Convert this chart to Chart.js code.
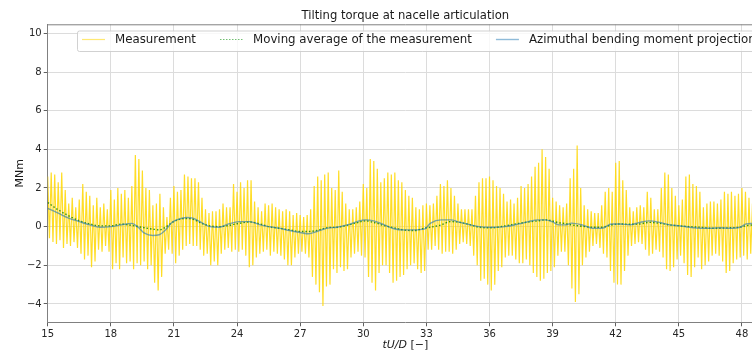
<!DOCTYPE html>
<html>
<head>
<meta charset="utf-8">
<script src="https://cdn.jsdelivr.net/npm/chart.js@4.4.1/dist/chart.umd.min.js"></script>
<style>
  html, body { margin: 0; padding: 0; background: #fff; overflow: hidden; }
  #wrap { width: 752px; height: 353px; overflow: hidden; }
  canvas { display: block; }
</style>
</head>
<body>
<div id="wrap"><canvas id="c" width="780" height="353"></canvas></div>
<script>
// ---- data -------------------------------------------------------------
const chartTitle = 'Tilting torque at nacelle articulation';
const seriesLabels = ['Measurement', 'Moving average of the measurement', 'Azimuthal bending moment projection'];
const xTicks = [15, 18, 21, 24, 27, 30, 33, 36, 39, 42, 45, 48];
const yTicks = [-4, -2, 0, 2, 4, 6, 8, 10];

// Measured torque: sampled every 1/12 of tU/D, alternating crest / trough
const measStart = 15;
const measStep = 1 / 12;
const measCrests = [
  2.6, 2.8, 2.7, 2.3, 2.8, 1.9,   // 15
  1.2, 1.5, 1.0, 1.4, 2.2, 1.8,   // 16
  1.6, 1.1, 1.5, 1.0, 1.2, 0.9,   // 17
  1.9, 1.4, 2.0, 1.7, 1.9, 1.5,   // 18
  2.1, 3.7, 3.5, 2.9, 2.0, 1.9,   // 19
  1.1, 1.2, 1.7, 1.0, 0.5, 1.5,   // 20
  2.1, 1.8, 1.9, 2.7, 2.6, 2.5,   // 21
  2.5, 2.3, 1.5, 0.9, 0.7, 0.8,   // 22
  0.8, 0.9, 1.2, 1.0, 1.0, 2.2,   // 23
  1.8, 2.3, 2.0, 2.4, 2.4, 1.3,   // 24
  1.0, 0.8, 1.2, 1.1, 1.2, 1.0,   // 25
  0.9, 0.8, 0.9, 0.8, 0.6, 0.7,   // 26
  0.6, 0.5, 0.6, 0.9, 2.1, 2.6,   // 27
  2.4, 2.7, 2.8, 2.0, 1.9, 2.9,   // 28
  1.8, 1.2, 0.9, 0.9, 1.0, 1.3,   // 29
  2.2, 2.0, 3.5, 3.4, 3.0, 2.3,   // 30
  2.5, 2.8, 2.7, 2.8, 2.4, 2.3,   // 31
  1.9, 1.6, 1.5, 1.0, 0.9, 1.1,   // 32
  1.2, 1.1, 1.2, 1.6, 2.2, 2.1,   // 33
  2.4, 2.0, 1.6, 1.2, 0.9, 0.9,   // 34
  0.9, 0.9, 1.6, 2.3, 2.5, 2.5,   // 35
  2.6, 2.4, 2.1, 2.0, 1.7, 1.3,   // 36
  1.4, 1.2, 1.5, 2.1, 2.0, 2.2,   // 37
  2.6, 3.1, 3.3, 4.0, 3.6, 3.0,   // 38
  1.5, 1.3, 1.1, 1.0, 1.2, 2.5,   // 39
  3.0, 4.2, 2.0, 1.1, 0.9, 0.8,   // 40
  0.7, 0.7, 1.1, 1.8, 2.0, 1.8,   // 41
  3.3, 3.4, 2.4, 1.9, 1.0, 0.8,   // 42
  1.0, 1.1, 1.0, 1.8, 1.5, 0.9,   // 43
  0.9, 2.0, 2.8, 2.7, 2.0, 1.6,   // 44
  1.1, 1.4, 2.6, 2.7, 2.2, 2.1,   // 45
  1.8, 1.0, 1.2, 1.3, 1.3, 1.2,   // 46
  1.4, 1.8, 1.7, 1.8, 1.6, 1.7,   // 47
  2.0, 1.8, 1.5, 1.2, 1.6, 1.8    // 48
];
const measTroughs = [
  -0.6, -0.8, -0.9, -0.7, -1.1, -0.9,   // 15
  -1.0, -0.8, -1.1, -1.4, -1.7, -1.5,   // 16
  -2.1, -1.8, -1.2, -1.3, -1.0, -1.3,   // 17
  -2.2, -1.9, -2.2, -1.6, -1.9, -1.8,   // 18
  -2.2, -1.9, -2.0, -1.8, -2.2, -2.0,   // 19
  -2.9, -3.3, -2.6, -1.4, -1.2, -1.4,   // 20
  -1.9, -1.5, -1.2, -1.0, -0.9, -1.0,   // 21
  -1.0, -1.2, -1.5, -1.4, -2.0, -1.8,   // 22
  -2.0, -1.4, -1.2, -1.1, -1.3, -1.2,   // 23
  -1.3, -1.2, -1.5, -2.1, -2.0, -1.6,   // 24
  -1.4, -1.3, -1.2, -1.5, -1.3, -1.4,   // 25
  -1.5, -1.7, -2.0, -2.0, -1.6, -1.4,   // 26
  -1.3, -1.4, -1.6, -2.6, -3.0, -3.4,   // 27
  -4.1, -3.1, -3.0, -2.2, -2.4, -2.1,   // 28
  -2.3, -2.2, -1.6, -1.4, -1.3, -1.5,   // 29
  -1.6, -2.6, -2.9, -3.3, -2.4, -2.0,   // 30
  -2.0, -2.4, -2.9, -2.8, -2.6, -2.5,   // 31
  -2.2, -2.0, -1.9, -2.2, -2.4, -2.3,   // 32
  -1.2, -1.2, -1.0, -1.2, -1.4, -1.3,   // 33
  -1.3, -1.4, -1.2, -0.9, -0.8, -0.9,   // 34
  -1.0, -1.5, -2.0, -2.8, -2.7, -3.0,   // 35
  -3.3, -3.0, -2.3, -2.1, -1.6, -1.5,   // 36
  -1.5, -1.7, -1.9, -1.9, -1.7, -2.0,   // 37
  -2.4, -2.6, -2.8, -2.7, -2.4, -2.3,   // 38
  -2.1, -1.5, -1.3, -1.3, -2.0, -3.2,   // 39
  -3.9, -3.5, -2.0, -1.6, -1.3, -1.0,   // 40
  -0.9, -1.1, -1.4, -1.6, -2.3, -2.9,   // 41
  -3.0, -3.0, -2.3, -1.5, -1.0, -0.9,   // 42
  -0.8, -0.9, -1.2, -1.5, -1.4, -1.2,   // 43
  -1.3, -1.6, -2.2, -2.3, -2.1, -1.7,   // 44
  -1.5, -1.9, -2.5, -2.6, -2.1, -1.6,   // 45
  -2.2, -2.0, -1.8, -1.5, -1.4, -1.5,   // 46
  -1.8, -2.4, -2.3, -1.9, -1.7, -1.6,   // 47
  -1.5, -1.7, -1.4, -1.3, -1.5, -1.6    // 48
];

// Smooth curves, read at these instants
const smoothTimes = [
  15.0, 15.5, 16.0, 16.5, 17.0, 17.5, 18.0, 18.5, 19.0, 19.3, 19.6, 20.0, 20.3, 20.6, 20.9,
  21.2, 21.6, 21.9, 22.3, 22.7, 23.15, 23.6, 24.1, 24.6, 25.1, 25.5, 26.0, 26.5, 27.0, 27.4,
  27.8, 28.3, 28.76, 29.24, 29.7, 30.1, 30.5, 31.0, 31.46, 31.9, 32.4, 32.9, 33.2, 33.7, 34.15,
  34.6, 35.1, 35.5, 36.1, 36.75, 37.4, 37.85, 38.3, 38.65, 38.97, 39.3, 39.6, 39.9, 40.4, 40.9,
  41.35, 41.8, 42.2, 42.67, 43.14, 43.6, 44.1, 44.57, 45.05, 45.5, 46.0, 46.5, 46.95, 47.4, 47.9,
  48.2, 48.5, 49.0
];
const movingAverage = [
  1.25, 0.87, 0.56, 0.30, 0.14, 0.04, 0.04, 0.13, 0.06, 0.00, -0.06, -0.13, -0.17, -0.03, 0.20,
  0.36, 0.42, 0.38, 0.18, 0.04, 0.00, 0.06, 0.17, 0.24, 0.14, 0.00, -0.08, -0.17, -0.25, -0.25,
  -0.20, -0.05, -0.03, 0.07, 0.20, 0.30, 0.22, 0.05, -0.06, -0.17, -0.20, -0.08, -0.03, 0.09, 0.26,
  0.22, 0.09, -0.03, -0.06, 0.04, 0.17, 0.24, 0.30, 0.35, 0.30, 0.20, 0.16, 0.09, 0.02, -0.03,
  -0.03, 0.09, 0.14, 0.12, 0.14, 0.22, 0.17, 0.09, 0.04, 0.00, -0.03, -0.08, -0.08, -0.06, -0.03,
  0.05, 0.09, 0.15
];
const azimuthalProjection = [
  0.95, 0.70, 0.44, 0.26, 0.09, -0.03, 0.00, 0.09, 0.17, -0.03, -0.34, -0.46, -0.42, -0.17, 0.21,
  0.38, 0.47, 0.44, 0.22, 0.00, -0.03, 0.14, 0.26, 0.26, 0.09, 0.00, -0.08, -0.20, -0.30, -0.37,
  -0.25, -0.08, -0.03, 0.09, 0.26, 0.35, 0.30, 0.09, -0.11, -0.17, -0.17, -0.13, 0.18, 0.35, 0.35,
  0.22, 0.09, 0.00, -0.03, 0.00, 0.14, 0.26, 0.35, 0.35, 0.26, 0.09, 0.09, 0.18, 0.09, -0.08,
  -0.08, 0.14, 0.14, 0.09, 0.22, 0.30, 0.22, 0.09, 0.04, -0.03, -0.08, -0.08, -0.06, -0.08, -0.03,
  0.14, 0.17, 0.20
];

// ---- build points -----------------------------------------------------
const measPoints = [];
for (let i = 0; i < measCrests.length; i++) {
  measPoints.push({ x: measStart + (2 * i) * measStep, y: measCrests[i] });
  measPoints.push({ x: measStart + (2 * i + 1) * measStep, y: measTroughs[i] });
}
const avgPoints = smoothTimes.map((t, i) => ({ x: t, y: movingAverage[i] }));
const aziPoints = smoothTimes.map((t, i) => ({ x: t, y: azimuthalProjection[i] }));

const COLORS = {
  meas: 'rgba(255, 215, 0, 0.85)',
  avg: 'rgba(0, 128, 0, 0.8)',
  azi: 'rgba(31, 119, 180, 0.6)'
};
const FONT = '"DejaVu Sans", Arial, sans-serif';
const minus = v => String(v).replace('-', '\u2212');

// Title, axis labels, legend and the top spine
const decorations = {
  id: 'decorations',
  afterDraw(chart) {
    const ctx = chart.ctx;
    const a = chart.chartArea;
    ctx.save();

    // top spine
    ctx.strokeStyle = '#808080';
    ctx.lineWidth = 1;
    ctx.beginPath();
    ctx.moveTo(a.left, a.top + 0.5);
    ctx.lineTo(a.right, a.top + 0.5);
    ctx.stroke();

    const cx = (a.left + a.right) / 2;
    ctx.fillStyle = '#1a1a1a';
    ctx.textBaseline = 'middle';

    // title
    ctx.font = '11.6px ' + FONT;
    ctx.textAlign = 'center';
    ctx.fillText(chartTitle, cx, 16);

    // y label
    ctx.save();
    ctx.translate(20, (a.top + a.bottom) / 2);
    ctx.rotate(-Math.PI / 2);
    ctx.font = '11px ' + FONT;
    ctx.fillText('MNm', 0, 0);
    ctx.restore();

    // x label: italic tU/D followed by [−]
    const p1 = 'tU/D', p2 = ' [\u2212]';
    ctx.font = 'italic 11px ' + FONT;
    const w1 = ctx.measureText(p1).width;
    ctx.font = '11px ' + FONT;
    const w2 = ctx.measureText(p2).width;
    let lx = cx - (w1 + w2) / 2;
    ctx.textAlign = 'left';
    ctx.font = 'italic 11px ' + FONT;
    ctx.fillText(p1, lx, 345);
    ctx.font = '11px ' + FONT;
    ctx.fillText(p2, lx + w1, 345);

    // legend
    const lgX = 77, lgY = 30.5, lgH = 20.5, lgW = 690;
    ctx.fillStyle = 'rgba(255,255,255,0.8)';
    ctx.strokeStyle = 'rgba(204,204,204,0.9)';
    ctx.lineWidth = 1;
    ctx.beginPath();
    ctx.roundRect(lgX + 0.5, lgY + 0.5, lgW, lgH, 2);
    ctx.fill();
    ctx.stroke();

    const styles = [
      { c: 'rgba(255, 215, 0, 0.55)', dash: [] , w: 1.2 },
      { c: 'rgba(0, 140, 0, 0.55)', dash: [1.5, 1.5], w: 1.2 },
      { c: 'rgba(31, 119, 180, 0.5)', dash: [], w: 1.4 }
    ];
    const ly = 39.5;
    let x = 82;
    ctx.font = '11.8px ' + FONT;
    seriesLabels.forEach((lab, i) => {
      const s = styles[i];
      ctx.strokeStyle = s.c;
      ctx.lineWidth = s.w;
      ctx.setLineDash(s.dash);
      ctx.beginPath();
      ctx.moveTo(x, ly);
      ctx.lineTo(x + 23, ly);
      ctx.stroke();
      ctx.setLineDash([]);
      ctx.fillStyle = '#1a1a1a';
      ctx.textAlign = 'left';
      ctx.fillText(lab, x + 33, ly);
      x = x + 33 + ctx.measureText(lab).width + 24;
    });
    ctx.restore();
  }
};

new Chart(document.getElementById('c'), {
  type: 'line',
  data: {
    datasets: [
      { label: seriesLabels[0], data: measPoints, borderColor: COLORS.meas, borderWidth: 1.2, pointRadius: 0, tension: 0, order: 3 },
      { label: seriesLabels[1], data: avgPoints, borderColor: COLORS.avg, borderWidth: 1.4, borderDash: [1.5, 2], pointRadius: 0, cubicInterpolationMode: 'monotone', order: 2 },
      { label: seriesLabels[2], data: aziPoints, borderColor: COLORS.azi, borderWidth: 1.4, pointRadius: 0, cubicInterpolationMode: 'monotone', order: 1 }
    ]
  },
  options: {
    responsive: false,
    animation: false,
    devicePixelRatio: 1,
    layout: { padding: { left: 0, top: 24.3, right: 17, bottom: 0 } },
    plugins: { legend: { display: false }, tooltip: { enabled: false }, title: { display: false } },
    scales: {
      x: {
        type: 'linear',
        min: 15,
        max: 49,
        afterBuildTicks: s => { s.ticks = xTicks.map(v => ({ value: v })); },
        afterFit: s => { s.height = 30.7; },
        ticks: { font: { family: FONT, size: 10 }, color: '#262626', padding: 2, maxRotation: 0, autoSkip: false, callback: v => minus(v) },
        grid: { color: '#dcdcdc', lineWidth: 1, tickLength: 4, tickColor: '#606060' },
        border: { color: '#808080', width: 1 }
      },
      y: {
        min: -4.95,
        max: 10.47,
        afterBuildTicks: s => { s.ticks = yTicks.map(v => ({ value: v })); },
        afterFit: s => { s.width = 47.7; },
        ticks: { font: { family: FONT, size: 10 }, color: '#262626', padding: 2, callback: v => minus(v) },
        grid: { color: '#dcdcdc', lineWidth: 1, tickLength: 4, tickColor: '#606060' },
        border: { color: '#808080', width: 1 }
      }
    }
  },
  plugins: [decorations]
});
</script>
</body>
</html>
